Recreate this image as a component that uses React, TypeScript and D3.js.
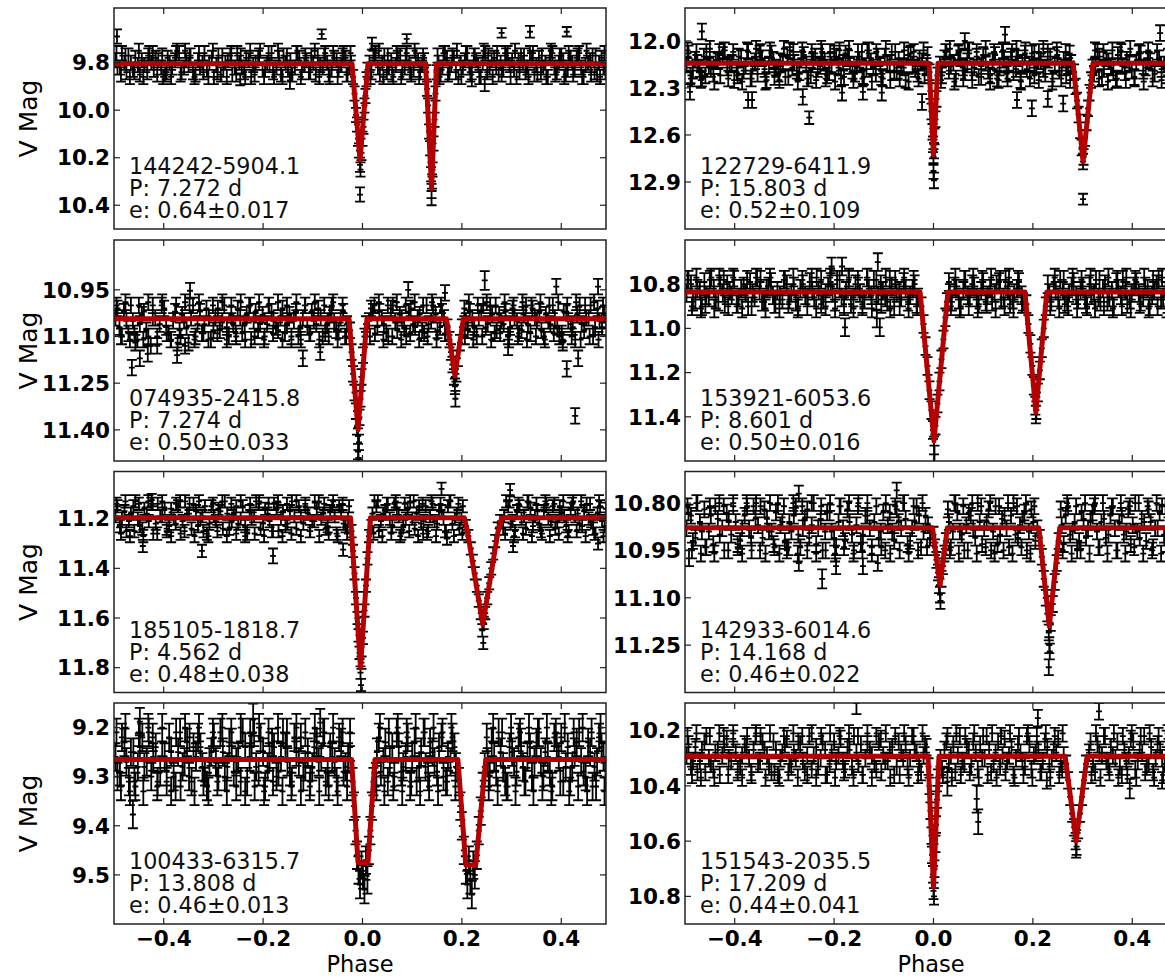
import React from 'react';
import * as d3 from 'd3';

// ---------------- metadata ----------------
const starIds = ['144242-5904.1', '122729-6411.9', '074935-2415.8', '153921-6053.6', '185105-1818.7', '142933-6014.6', '100433-6315.7', '151543-2035.5'];
const periods = ['7.272', '15.803', '7.274', '8.601', '4.562', '14.168', '13.808', '17.209'];
const eccs = ['0.64±0.017', '0.52±0.109', '0.50±0.033', '0.50±0.016', '0.48±0.038', '0.46±0.022', '0.46±0.013', '0.44±0.041'];
const magDomains = [[9.57, 10.5], [11.79, 13.2], [10.79, 11.5], [10.6, 11.6], [11.01, 11.9], [10.7, 11.4], [9.15, 9.6], [10.1, 10.9]];
const magTicks = [[9.8, 10.0, 10.2, 10.4], [12.0, 12.3, 12.6, 12.9], [10.95, 11.10, 11.25, 11.40], [10.8, 11.0, 11.2, 11.4], [11.2, 11.4, 11.6, 11.8], [10.80, 10.95, 11.10, 11.25], [9.2, 9.3, 9.4, 9.5], [10.2, 10.4, 10.6, 10.8]];
const tickDecimals = [1, 1, 2, 1, 1, 2, 1, 1];
const phaseDomain = [-0.5, 0.49];
const phaseTicks = [-0.4, -0.2, 0, 0.2, 0.4];
const typicalErr = [0.03, 0.05, 0.025, 0.04, 0.025, 0.025, 0.028, 0.03];

// ---------------- model curves [phase, mag] ----------------
const model1 = [[-0.5, 9.805], [-0.021, 9.805], [-0.005, 10.21], [0.011, 9.805], [0.127, 9.805], [0.139, 10.33], [0.149, 9.805], [0.49, 9.805]];
const model2 = [[-0.5, 12.142], [-0.009, 12.142], [0, 12.73], [0.009, 12.142], [0.281, 12.142], [0.301, 12.77], [0.321, 12.142], [0.49, 12.142]];
const model3 = [[-0.5, 11.043], [-0.027, 11.043], [-0.009, 11.40], [0.009, 11.043], [0.169, 11.043], [0.186, 11.226], [0.203, 11.043], [0.49, 11.043]];
const model4 = [[-0.5, 10.835], [-0.027, 10.835], [0.001, 11.51], [0.029, 10.835], [0.184, 10.835], [0.206, 11.38], [0.228, 10.835], [0.49, 10.835]];
const model5 = [[-0.5, 11.196], [-0.024, 11.196], [-0.004, 11.80], [0.016, 11.196], [0.205, 11.196], [0.212, 11.26], [0.242, 11.627], [0.272, 11.26], [0.280, 11.196], [0.49, 11.196]];
const model6 = [[-0.5, 10.878], [-0.002, 10.878], [0.013, 11.06], [0.028, 10.878], [0.212, 10.878], [0.233, 11.19], [0.254, 10.878], [0.49, 10.878]];
const model7 = [[-0.5, 9.265], [-0.022, 9.265], [-0.009, 9.475], [0.011, 9.475], [0.025, 9.265], [0.192, 9.265], [0.208, 9.48], [0.228, 9.48], [0.248, 9.265], [0.49, 9.265]];
const model8 = [[-0.5, 10.293], [-0.011, 10.293], [0, 10.767], [0.011, 10.293], [0.265, 10.293], [0.287, 10.60], [0.309, 10.293], [0.49, 10.293]];

// ---------------- observations [phase, mag, err?] ----------------
const obs1 = [
  [-0.497, 9.79], [-0.488, 9.82], [-0.479, 9.80], [-0.471, 9.77], [-0.462, 9.83], [-0.452, 9.81], [-0.444, 9.79], [-0.433, 9.84], [-0.425, 9.80], [-0.416, 9.78],
  [-0.405, 9.82], [-0.397, 9.85], [-0.388, 9.80], [-0.377, 9.79], [-0.369, 9.76], [-0.359, 9.82], [-0.350, 9.81], [-0.341, 9.84], [-0.331, 9.79], [-0.322, 9.80],
  [-0.313, 9.83], [-0.303, 9.78], [-0.294, 9.81], [-0.285, 9.85], [-0.276, 9.80], [-0.266, 9.77], [-0.257, 9.82], [-0.248, 9.80], [-0.238, 9.84], [-0.229, 9.79],
  [-0.220, 9.81], [-0.210, 9.78], [-0.201, 9.83], [-0.192, 9.80], [-0.183, 9.76], [-0.173, 9.82], [-0.164, 9.85], [-0.155, 9.80], [-0.145, 9.79], [-0.136, 9.82],
  [-0.127, 9.78], [-0.117, 9.81], [-0.108, 9.84], [-0.099, 9.80], [-0.090, 9.77], [-0.080, 9.82], [-0.071, 9.80], [-0.062, 9.83], [-0.052, 9.79], [-0.043, 9.81],
  [-0.034, 9.78], [-0.026, 9.82], [0.014, 9.80], [0.022, 9.78], [0.031, 9.82], [0.040, 9.80], [0.049, 9.84], [0.058, 9.79], [0.067, 9.81], [0.076, 9.77],
  [0.085, 9.82], [0.094, 9.80], [0.103, 9.83], [0.112, 9.79], [0.120, 9.81], [0.153, 9.80], [0.161, 9.82], [0.170, 9.78], [0.179, 9.81], [0.188, 9.84],
  [0.197, 9.80], [0.206, 9.79], [0.215, 9.82], [0.224, 9.77], [0.233, 9.81], [0.242, 9.80], [0.251, 9.84], [0.260, 9.79], [0.269, 9.82], [0.278, 9.80],
  [0.287, 9.76], [0.296, 9.81], [0.305, 9.83], [0.314, 9.79], [0.323, 9.80], [0.332, 9.82], [0.341, 9.78], [0.350, 9.81], [0.359, 9.84], [0.368, 9.80],
  [0.377, 9.77], [0.386, 9.82], [0.395, 9.80], [0.404, 9.79], [0.413, 9.83], [0.422, 9.80], [0.431, 9.78], [0.440, 9.82], [0.449, 9.81], [0.458, 9.79],
  [0.467, 9.84], [0.476, 9.80], [0.485, 9.82],
  [-0.019, 9.86], [-0.016, 9.93], [-0.013, 10.02], [-0.011, 10.06], [-0.009, 10.12], [-0.007, 10.17], [-0.005, 10.23], [-0.004, 10.25], [-0.002, 10.18], [0.000, 10.12],
  [0.002, 10.07], [0.004, 9.98], [0.006, 9.94], [0.008, 9.87], [0.010, 9.83], [-0.005, 10.355, 0.03],
  [0.128, 9.84], [0.130, 9.91], [0.132, 9.98], [0.134, 10.09], [0.136, 10.16], [0.138, 10.27], [0.139, 10.34], [0.140, 10.30], [0.141, 10.25], [0.143, 10.14],
  [0.145, 10.04], [0.147, 9.93], [0.149, 9.84], [0.139, 10.37],
  [-0.494, 9.69, 0.03], [0.019, 9.72, 0.025], [0.411, 9.67, 0.02], [-0.246, 9.87, 0.025], [-0.146, 9.875, 0.035], [0.22, 9.87, 0.03], [0.246, 9.89, 0.03],
  [-0.082, 9.68, 0.02], [0.28, 9.675, 0.02], [0.337, 9.67, 0.025], [0.089, 9.70, 0.02],
];
const obs1b = [
  [-0.493, 9.82], [-0.484, 9.76], [-0.475, 9.84], [-0.466, 9.80], [-0.457, 9.78], [-0.448, 9.85], [-0.439, 9.81], [-0.429, 9.76], [-0.420, 9.83], [-0.411, 9.79],
  [-0.401, 9.86], [-0.392, 9.78], [-0.383, 9.82], [-0.373, 9.75], [-0.364, 9.84], [-0.355, 9.79], [-0.346, 9.77], [-0.336, 9.85], [-0.327, 9.82], [-0.318, 9.76],
  [-0.308, 9.80], [-0.299, 9.86], [-0.290, 9.77], [-0.280, 9.83], [-0.271, 9.79], [-0.262, 9.85], [-0.252, 9.76], [-0.243, 9.82], [-0.234, 9.78], [-0.224, 9.86],
  [-0.215, 9.80], [-0.206, 9.75], [-0.196, 9.83], [-0.187, 9.81], [-0.178, 9.86], [-0.168, 9.78], [-0.159, 9.77], [-0.150, 9.83], [-0.141, 9.85], [-0.131, 9.76],
  [-0.122, 9.84], [-0.113, 9.79], [-0.103, 9.77], [-0.094, 9.85], [-0.085, 9.81], [-0.075, 9.76], [-0.066, 9.86], [-0.057, 9.78], [-0.048, 9.83], [-0.038, 9.76],
  [-0.030, 9.85], [-0.023, 9.80], [0.018, 9.84], [0.026, 9.76], [0.035, 9.85], [0.044, 9.77], [0.053, 9.82], [0.062, 9.86], [0.071, 9.78], [0.080, 9.84],
  [0.089, 9.76], [0.098, 9.85], [0.107, 9.77], [0.116, 9.84], [0.124, 9.79], [0.151, 9.77], [0.157, 9.85], [0.166, 9.76], [0.175, 9.84], [0.184, 9.78],
  [0.193, 9.86], [0.202, 9.82], [0.211, 9.76], [0.220, 9.84], [0.229, 9.79], [0.238, 9.86], [0.247, 9.76], [0.256, 9.82], [0.265, 9.78], [0.274, 9.85],
  [0.283, 9.83], [0.292, 9.76], [0.301, 9.79], [0.310, 9.86], [0.319, 9.77], [0.328, 9.84], [0.337, 9.76], [0.346, 9.85], [0.355, 9.78], [0.364, 9.82],
  [0.373, 9.86], [0.382, 9.76], [0.391, 9.84], [0.400, 9.77], [0.409, 9.85], [0.418, 9.78], [0.427, 9.83], [0.436, 9.76], [0.445, 9.86], [0.454, 9.80],
  [0.463, 9.77], [0.472, 9.85], [0.481, 9.78], [0.489, 9.84],
];
const obs1c = [
  [-0.495, 9.76], [-0.486, 9.85], [-0.477, 9.77], [-0.468, 9.86], [-0.459, 9.84], [-0.450, 9.75], [-0.441, 9.86], [-0.431, 9.77], [-0.422, 9.76], [-0.413, 9.85],
  [-0.403, 9.77], [-0.394, 9.84], [-0.385, 9.86], [-0.375, 9.76], [-0.366, 9.85], [-0.357, 9.75], [-0.348, 9.77], [-0.338, 9.86], [-0.329, 9.76], [-0.320, 9.84],
  [-0.310, 9.86], [-0.301, 9.75], [-0.292, 9.84], [-0.282, 9.77], [-0.273, 9.86], [-0.264, 9.76], [-0.254, 9.85], [-0.245, 9.77], [-0.236, 9.86], [-0.226, 9.75],
  [-0.217, 9.85], [-0.208, 9.77], [-0.198, 9.86], [-0.189, 9.76], [-0.180, 9.84], [-0.170, 9.75], [-0.161, 9.86], [-0.152, 9.77], [-0.143, 9.85], [-0.133, 9.76],
  [-0.124, 9.86], [-0.115, 9.77], [-0.105, 9.84], [-0.096, 9.75], [-0.087, 9.86], [-0.077, 9.77], [-0.068, 9.85], [-0.059, 9.76], [-0.050, 9.86], [-0.040, 9.77],
  [-0.032, 9.85], [-0.024, 9.76], [0.016, 9.86], [0.024, 9.77], [0.033, 9.75], [0.042, 9.86], [0.051, 9.77], [0.060, 9.85], [0.069, 9.76], [0.078, 9.86],
  [0.087, 9.77], [0.096, 9.84], [0.105, 9.75], [0.114, 9.86], [0.122, 9.77], [0.155, 9.86], [0.163, 9.76], [0.172, 9.85], [0.181, 9.77], [0.190, 9.75],
  [0.199, 9.86], [0.208, 9.76], [0.217, 9.85], [0.226, 9.77], [0.235, 9.86], [0.244, 9.75], [0.253, 9.77], [0.262, 9.86], [0.271, 9.76], [0.280, 9.85],
  [0.289, 9.77], [0.298, 9.86], [0.307, 9.75], [0.316, 9.84], [0.325, 9.77], [0.334, 9.86], [0.343, 9.76], [0.352, 9.85], [0.361, 9.77], [0.370, 9.86],
  [0.379, 9.75], [0.388, 9.85], [0.397, 9.77], [0.406, 9.86], [0.415, 9.76], [0.424, 9.85], [0.433, 9.77], [0.442, 9.86], [0.451, 9.75], [0.460, 9.85],
  [0.469, 9.77], [0.478, 9.86], [0.487, 9.76],
];

const obs2 = [
  [-0.497, 12.15], [-0.489, 12.22], [-0.480, 12.12], [-0.471, 12.18], [-0.462, 12.10], [-0.452, 12.16], [-0.443, 12.21], [-0.434, 12.13], [-0.424, 12.09], [-0.415, 12.17],
  [-0.406, 12.14], [-0.396, 12.20], [-0.387, 12.11], [-0.378, 12.16], [-0.368, 12.24], [-0.359, 12.13], [-0.350, 12.08], [-0.340, 12.18], [-0.331, 12.15], [-0.322, 12.12],
  [-0.312, 12.21], [-0.303, 12.14], [-0.294, 12.09], [-0.284, 12.17], [-0.275, 12.19], [-0.266, 12.12], [-0.256, 12.15], [-0.247, 12.22], [-0.238, 12.10], [-0.228, 12.16],
  [-0.219, 12.13], [-0.210, 12.20], [-0.200, 12.08], [-0.191, 12.17], [-0.182, 12.14], [-0.172, 12.11], [-0.163, 12.19], [-0.154, 12.15], [-0.144, 12.07], [-0.135, 12.18],
  [-0.126, 12.13], [-0.116, 12.21], [-0.107, 12.16], [-0.098, 12.10], [-0.088, 12.14], [-0.079, 12.19], [-0.070, 12.12], [-0.060, 12.17], [-0.051, 12.09], [-0.042, 12.15],
  [-0.032, 12.21], [-0.023, 12.13], [-0.014, 12.16], [0.013, 12.15], [0.022, 12.11], [0.031, 12.19], [0.040, 12.14], [0.050, 12.08], [0.059, 12.17], [0.068, 12.13],
  [0.077, 12.20], [0.087, 12.10], [0.096, 12.16], [0.105, 12.14], [0.114, 12.22], [0.124, 12.09], [0.133, 12.17], [0.142, 12.12], [0.151, 12.15], [0.161, 12.20],
  [0.170, 12.11], [0.179, 12.14], [0.188, 12.18], [0.198, 12.08], [0.207, 12.16], [0.216, 12.13], [0.225, 12.21], [0.235, 12.10], [0.244, 12.15], [0.253, 12.19],
  [0.262, 12.12], [0.271, 12.16], [0.277, 12.14], [0.326, 12.15], [0.334, 12.10], [0.343, 12.18], [0.352, 12.13], [0.362, 12.20], [0.371, 12.09], [0.380, 12.16],
  [0.389, 12.12], [0.399, 12.19], [0.408, 12.14], [0.417, 12.08], [0.427, 12.17], [0.436, 12.13], [0.445, 12.21], [0.454, 12.11], [0.464, 12.15], [0.473, 12.18],
  [0.482, 12.10], [0.490, 12.16],
  [-0.008, 12.20], [-0.006, 12.32], [-0.004, 12.45], [-0.002, 12.58], [-0.001, 12.66], [0.000, 12.74], [0.000, 12.83], [0.001, 12.89], [0.001, 12.70], [0.002, 12.61],
  [0.004, 12.50], [0.006, 12.37], [0.008, 12.22],
  [0.283, 12.20], [0.286, 12.29], [0.289, 12.38], [0.292, 12.47], [0.295, 12.57], [0.298, 12.68], [0.301, 12.77], [0.302, 12.74], [0.305, 12.62], [0.308, 12.52],
  [0.311, 12.43], [0.314, 12.33], [0.317, 12.25], [0.320, 12.17], [0.301, 13.01, 0.035],
  [-0.49, 12.325], [-0.373, 12.377], [-0.365, 12.377], [-0.263, 12.357], [-0.25, 12.49, 0.04], [-0.184, 12.33], [-0.142, 12.325], [-0.104, 12.33], [-0.023, 12.39],
  [0.168, 12.377], [0.198, 12.43], [0.23, 12.37], [0.261, 12.40], [-0.466, 11.94], [0.144, 11.96], [0.456, 11.95], [0.063, 12.0],
];
const obs2b = [
  [-0.493, 12.08], [-0.484, 12.19], [-0.475, 12.14], [-0.466, 12.24], [-0.457, 12.07], [-0.448, 12.18], [-0.438, 12.12], [-0.429, 12.22], [-0.420, 12.06], [-0.410, 12.15],
  [-0.401, 12.25], [-0.392, 12.10], [-0.382, 12.19], [-0.373, 12.07], [-0.364, 12.16], [-0.354, 12.21], [-0.345, 12.11], [-0.336, 12.25], [-0.326, 12.08], [-0.317, 12.17],
  [-0.308, 12.13], [-0.298, 12.23], [-0.289, 12.06], [-0.280, 12.14], [-0.270, 12.20], [-0.261, 12.09], [-0.252, 12.24], [-0.242, 12.13], [-0.233, 12.18], [-0.224, 12.07],
  [-0.214, 12.22], [-0.205, 12.15], [-0.196, 12.10], [-0.186, 12.24], [-0.177, 12.08], [-0.168, 12.16], [-0.158, 12.21], [-0.149, 12.12], [-0.140, 12.23], [-0.130, 12.06],
  [-0.121, 12.17], [-0.112, 12.10], [-0.102, 12.24], [-0.093, 12.14], [-0.084, 12.07], [-0.074, 12.20], [-0.065, 12.16], [-0.056, 12.25], [-0.046, 12.08], [-0.037, 12.18],
  [-0.028, 12.11], [-0.018, 12.22], [-0.012, 12.09], [0.017, 12.22], [0.026, 12.07], [0.035, 12.16], [0.045, 12.24], [0.054, 12.11], [0.063, 12.20], [0.072, 12.06],
  [0.082, 12.17], [0.091, 12.23], [0.100, 12.09], [0.110, 12.19], [0.119, 12.13], [0.128, 12.24], [0.138, 12.07], [0.147, 12.21], [0.156, 12.10], [0.166, 12.18],
  [0.175, 12.25], [0.184, 12.08], [0.193, 12.15], [0.203, 12.22], [0.212, 12.07], [0.221, 12.18], [0.230, 12.12], [0.240, 12.24], [0.249, 12.09], [0.258, 12.17],
  [0.267, 12.22], [0.274, 12.08], [0.323, 12.21], [0.330, 12.07], [0.339, 12.23], [0.348, 12.11], [0.357, 12.17], [0.367, 12.25], [0.376, 12.06], [0.385, 12.20],
  [0.394, 12.14], [0.404, 12.23], [0.413, 12.08], [0.422, 12.19], [0.431, 12.12], [0.441, 12.24], [0.450, 12.07], [0.459, 12.18], [0.468, 12.22], [0.478, 12.09],
  [0.487, 12.20],
];
const obs2c = [
  [-0.495, 12.06], [-0.486, 12.24], [-0.477, 12.07], [-0.468, 12.25], [-0.459, 12.22], [-0.450, 12.05], [-0.441, 12.26], [-0.431, 12.07], [-0.422, 12.06], [-0.413, 12.24],
  [-0.403, 12.07], [-0.394, 12.22], [-0.385, 12.26], [-0.375, 12.06], [-0.366, 12.24], [-0.357, 12.05], [-0.348, 12.07], [-0.338, 12.26], [-0.329, 12.06], [-0.320, 12.23],
  [-0.310, 12.25], [-0.301, 12.05], [-0.292, 12.23], [-0.282, 12.07], [-0.273, 12.26], [-0.264, 12.06], [-0.254, 12.24], [-0.245, 12.07], [-0.236, 12.25], [-0.226, 12.05],
  [-0.217, 12.24], [-0.208, 12.07], [-0.198, 12.26], [-0.189, 12.06], [-0.180, 12.23], [-0.170, 12.05], [-0.161, 12.25], [-0.152, 12.07], [-0.143, 12.24], [-0.133, 12.06],
  [-0.124, 12.26], [-0.115, 12.07], [-0.105, 12.23], [-0.096, 12.05], [-0.087, 12.25], [-0.077, 12.07], [-0.068, 12.24], [-0.059, 12.06], [-0.050, 12.26], [-0.040, 12.07],
  [-0.030, 12.24], [-0.020, 12.06], [0.015, 12.25], [0.024, 12.07], [0.033, 12.05], [0.042, 12.26], [0.051, 12.07], [0.060, 12.24], [0.069, 12.06], [0.078, 12.25],
  [0.087, 12.07], [0.096, 12.23], [0.105, 12.05], [0.114, 12.26], [0.122, 12.07], [0.131, 12.25], [0.140, 12.06], [0.149, 12.24], [0.158, 12.07], [0.167, 12.05],
  [0.176, 12.26], [0.185, 12.06], [0.194, 12.24], [0.203, 12.07], [0.212, 12.25], [0.221, 12.05], [0.230, 12.07], [0.239, 12.26], [0.248, 12.06], [0.257, 12.24],
  [0.266, 12.07], [0.275, 12.25], [0.325, 12.06], [0.333, 12.24], [0.342, 12.07], [0.351, 12.26], [0.360, 12.06], [0.369, 12.24], [0.378, 12.07], [0.387, 12.25],
  [0.396, 12.05], [0.405, 12.24], [0.414, 12.07], [0.423, 12.26], [0.432, 12.06], [0.441, 12.24], [0.450, 12.07], [0.459, 12.25], [0.468, 12.05], [0.477, 12.24],
  [0.486, 12.07],
];

const obs3 = [
  [-0.497, 11.04], [-0.489, 11.07], [-0.480, 11.02], [-0.471, 11.09], [-0.462, 11.05], [-0.453, 11.11], [-0.444, 11.03], [-0.435, 11.08], [-0.426, 11.13], [-0.417, 11.04],
  [-0.408, 11.06], [-0.399, 11.01], [-0.390, 11.09], [-0.381, 11.05], [-0.372, 11.12], [-0.363, 11.03], [-0.354, 11.07], [-0.345, 11.04], [-0.336, 11.10], [-0.327, 11.02],
  [-0.318, 11.06], [-0.309, 11.04], [-0.300, 11.08], [-0.291, 11.01], [-0.282, 11.05], [-0.273, 11.07], [-0.264, 11.03], [-0.255, 11.09], [-0.246, 11.04], [-0.237, 11.06],
  [-0.228, 11.00], [-0.219, 11.05], [-0.210, 11.08], [-0.201, 11.03], [-0.192, 11.06], [-0.183, 11.02], [-0.174, 11.07], [-0.165, 11.04], [-0.156, 11.09], [-0.147, 11.03],
  [-0.138, 11.05], [-0.129, 11.10], [-0.120, 11.04], [-0.111, 11.07], [-0.102, 11.02], [-0.093, 11.06], [-0.084, 11.04], [-0.075, 11.09], [-0.066, 11.03], [-0.057, 11.05],
  [-0.048, 11.08], [-0.039, 11.02], [-0.031, 11.06], [0.013, 11.05], [0.021, 11.02], [0.030, 11.07], [0.039, 11.04], [0.048, 11.09], [0.057, 11.01], [0.066, 11.05],
  [0.075, 11.03], [0.084, 11.07], [0.093, 11.02], [0.102, 11.06], [0.111, 11.04], [0.120, 11.08], [0.129, 11.00], [0.138, 11.05], [0.147, 11.03], [0.156, 11.07],
  [0.164, 11.04], [0.208, 11.05], [0.216, 11.02], [0.225, 11.07], [0.234, 11.04], [0.243, 11.00], [0.252, 11.06], [0.261, 11.03], [0.270, 11.08], [0.279, 11.05],
  [0.288, 11.02], [0.297, 11.07], [0.306, 11.04], [0.315, 11.09], [0.324, 11.03], [0.333, 11.06], [0.342, 11.01], [0.351, 11.05], [0.360, 11.08], [0.369, 11.03],
  [0.378, 11.06], [0.387, 11.04], [0.396, 11.10], [0.405, 11.02], [0.414, 11.05], [0.423, 11.07], [0.432, 11.03], [0.441, 11.06], [0.450, 11.04], [0.459, 11.00],
  [0.468, 11.07], [0.477, 11.05], [0.486, 11.03],
  [-0.025, 11.08], [-0.022, 11.15], [-0.019, 11.22], [-0.016, 11.28], [-0.013, 11.34], [-0.011, 11.39], [-0.009, 11.42], [-0.009, 11.47], [-0.008, 11.49], [-0.007, 11.44],
  [-0.006, 11.36], [-0.004, 11.30], [-0.002, 11.23], [0.001, 11.16], [0.004, 11.10], [0.007, 11.06],
  [0.171, 11.07], [0.175, 11.11], [0.178, 11.15], [0.181, 11.19], [0.184, 11.23], [0.186, 11.26], [0.187, 11.30], [0.189, 11.22], [0.192, 11.17], [0.196, 11.12], [0.200, 11.07],
  [-0.464, 11.20], [-0.448, 11.17], [-0.432, 11.156], [-0.373, 11.16], [-0.357, 11.13], [-0.12, 11.17], [-0.347, 10.953], [0.411, 11.204], [0.434, 11.17],
  [0.428, 11.355], [0.246, 10.92, 0.03], [0.39, 10.94], [0.474, 10.94], [0.092, 10.95], [0.166, 10.96], [-0.085, 11.15], [0.293, 11.135], [0.403, 11.12],
];
const obs3b = [
  [-0.493, 11.01], [-0.484, 11.10], [-0.475, 11.05], [-0.466, 11.00], [-0.457, 11.12], [-0.448, 11.06], [-0.440, 11.02], [-0.431, 11.10], [-0.422, 11.04], [-0.413, 11.13],
  [-0.404, 11.00], [-0.395, 11.07], [-0.386, 11.11], [-0.377, 11.02], [-0.368, 11.08], [-0.359, 11.05], [-0.350, 11.12], [-0.341, 11.00], [-0.332, 11.06], [-0.323, 11.09],
  [-0.314, 11.01], [-0.305, 11.11], [-0.296, 11.04], [-0.287, 11.08], [-0.278, 11.00], [-0.269, 11.10], [-0.260, 11.06], [-0.251, 11.01], [-0.242, 11.09], [-0.233, 11.03],
  [-0.224, 11.11], [-0.215, 11.02], [-0.206, 11.06], [-0.197, 11.10], [-0.188, 11.00], [-0.179, 11.05], [-0.170, 11.08], [-0.161, 11.01], [-0.152, 11.06], [-0.143, 11.11],
  [-0.134, 11.02], [-0.125, 11.07], [-0.116, 11.00], [-0.107, 11.09], [-0.098, 11.05], [-0.089, 11.01], [-0.080, 11.10], [-0.071, 11.06], [-0.062, 11.00], [-0.053, 11.08],
  [-0.044, 11.04], [-0.035, 11.10], [0.017, 11.01], [0.025, 11.09], [0.034, 11.02], [0.043, 11.06], [0.052, 11.10], [0.061, 11.00], [0.070, 11.08], [0.079, 11.04],
  [0.088, 11.10], [0.097, 11.01], [0.106, 11.07], [0.115, 11.03], [0.124, 11.09], [0.133, 11.06], [0.142, 11.00], [0.151, 11.08], [0.160, 11.02], [0.167, 11.09],
  [0.205, 11.01], [0.212, 11.08], [0.221, 11.04], [0.230, 11.10], [0.239, 11.02], [0.248, 11.07], [0.257, 11.00], [0.266, 11.09], [0.275, 11.03], [0.284, 11.06],
  [0.293, 11.10], [0.302, 11.01], [0.311, 11.05], [0.320, 11.08], [0.329, 11.00], [0.338, 11.09], [0.347, 11.04], [0.356, 11.02], [0.365, 11.10], [0.374, 11.05],
  [0.383, 11.00], [0.392, 11.07], [0.401, 11.09], [0.410, 11.02], [0.419, 11.06], [0.428, 11.11], [0.437, 11.00], [0.446, 11.08], [0.455, 11.04], [0.464, 11.10],
  [0.473, 11.01], [0.482, 11.07], [0.490, 11.05],
];
const obs3c = [
  [-0.495, 11.00], [-0.486, 11.10], [-0.477, 10.99], [-0.468, 11.11], [-0.459, 11.09], [-0.450, 11.00], [-0.441, 11.11], [-0.431, 10.99], [-0.422, 11.00], [-0.413, 11.10],
  [-0.403, 10.99], [-0.394, 11.09], [-0.385, 11.11], [-0.375, 11.00], [-0.366, 11.10], [-0.357, 10.99], [-0.348, 11.00], [-0.338, 11.11], [-0.329, 10.99], [-0.320, 11.09],
  [-0.310, 11.11], [-0.301, 11.00], [-0.292, 11.09], [-0.282, 10.99], [-0.273, 11.11], [-0.264, 11.00], [-0.254, 11.10], [-0.245, 10.99], [-0.236, 11.11], [-0.226, 11.00],
  [-0.217, 11.10], [-0.208, 10.99], [-0.198, 11.11], [-0.189, 11.00], [-0.180, 11.09], [-0.170, 10.99], [-0.161, 11.11], [-0.152, 11.00], [-0.143, 11.10], [-0.133, 10.99],
  [-0.124, 11.11], [-0.115, 11.00], [-0.105, 11.09], [-0.096, 10.99], [-0.087, 11.11], [-0.077, 11.00], [-0.068, 11.10], [-0.059, 10.99], [-0.050, 11.11], [-0.040, 11.00],
  [-0.033, 11.10], [0.015, 11.10], [0.024, 11.00], [0.033, 10.99], [0.042, 11.11], [0.051, 11.00], [0.060, 11.10], [0.069, 10.99], [0.078, 11.11], [0.087, 11.00],
  [0.096, 11.09], [0.105, 10.99], [0.114, 11.11], [0.122, 11.00], [0.131, 11.10], [0.140, 10.99], [0.149, 11.11], [0.158, 11.00], [0.166, 11.09], [0.206, 11.10],
  [0.214, 10.99], [0.223, 11.11], [0.232, 11.00], [0.241, 11.10], [0.250, 10.99], [0.259, 11.11], [0.268, 11.00], [0.277, 11.09], [0.286, 10.99], [0.295, 11.11],
  [0.304, 11.00], [0.313, 11.10], [0.322, 10.99], [0.331, 11.11], [0.340, 11.00], [0.349, 11.10], [0.358, 10.99], [0.367, 11.11], [0.376, 11.00], [0.385, 11.09],
  [0.394, 10.99], [0.403, 11.11], [0.412, 11.00], [0.421, 11.10], [0.430, 10.99], [0.439, 11.11], [0.448, 11.00], [0.457, 11.10], [0.466, 10.99], [0.475, 11.11],
  [0.484, 11.00],
];

const obs4 = [
  [-0.497, 10.84], [-0.488, 10.80], [-0.479, 10.87], [-0.470, 10.83], [-0.461, 10.79], [-0.452, 10.86], [-0.442, 10.82], [-0.433, 10.88], [-0.424, 10.84], [-0.415, 10.80],
  [-0.406, 10.85], [-0.396, 10.89], [-0.387, 10.82], [-0.378, 10.84], [-0.369, 10.79], [-0.360, 10.86], [-0.350, 10.83], [-0.341, 10.88], [-0.332, 10.81], [-0.323, 10.85],
  [-0.314, 10.83], [-0.304, 10.87], [-0.295, 10.80], [-0.286, 10.84], [-0.277, 10.88], [-0.268, 10.82], [-0.258, 10.85], [-0.249, 10.79], [-0.240, 10.86], [-0.231, 10.83],
  [-0.222, 10.87], [-0.212, 10.81], [-0.203, 10.84], [-0.194, 10.78], [-0.185, 10.86], [-0.176, 10.83], [-0.166, 10.89], [-0.157, 10.80], [-0.148, 10.84], [-0.139, 10.87],
  [-0.130, 10.82], [-0.120, 10.78], [-0.111, 10.85], [-0.102, 10.83], [-0.093, 10.88], [-0.084, 10.81], [-0.074, 10.84], [-0.065, 10.86], [-0.056, 10.82], [-0.047, 10.85],
  [-0.038, 10.80], [-0.031, 10.86], [0.033, 10.84], [0.042, 10.81], [0.051, 10.87], [0.060, 10.83], [0.069, 10.85], [0.078, 10.80], [0.087, 10.86], [0.096, 10.83],
  [0.105, 10.88], [0.114, 10.82], [0.123, 10.84], [0.132, 10.79], [0.141, 10.86], [0.150, 10.83], [0.159, 10.87], [0.168, 10.82], [0.177, 10.85], [0.233, 10.84],
  [0.242, 10.80], [0.251, 10.86], [0.260, 10.83], [0.269, 10.88], [0.278, 10.81], [0.287, 10.85], [0.296, 10.83], [0.305, 10.87], [0.314, 10.80], [0.323, 10.84],
  [0.332, 10.86], [0.341, 10.82], [0.350, 10.88], [0.359, 10.83], [0.368, 10.79], [0.377, 10.85], [0.386, 10.83], [0.395, 10.87], [0.404, 10.81], [0.413, 10.84],
  [0.422, 10.86], [0.431, 10.82], [0.440, 10.85], [0.449, 10.80], [0.458, 10.87], [0.467, 10.83], [0.476, 10.85], [0.485, 10.81], [0.493, 10.84],
  [-0.024, 10.90], [-0.020, 10.98], [-0.016, 11.08], [-0.012, 11.17], [-0.008, 11.28], [-0.004, 11.37], [-0.001, 11.46], [0.001, 11.53], [0.002, 11.57], [0.004, 11.44],
  [0.008, 11.34], [0.012, 11.24], [0.016, 11.14], [0.020, 11.05], [0.024, 10.95], [0.027, 10.88],
  [0.187, 10.89], [0.191, 10.98], [0.195, 11.07], [0.199, 11.17], [0.202, 11.26], [0.205, 11.35], [0.206, 11.39], [0.207, 11.37], [0.210, 11.29], [0.214, 11.19],
  [0.218, 11.09], [0.222, 11.00], [0.226, 10.90],
  [-0.178, 10.995], [-0.108, 10.995], [-0.114, 10.955], [-0.112, 10.70], [-0.184, 10.72], [-0.205, 10.72],
];
const obs4b = [
  [-0.493, 10.78], [-0.484, 10.88], [-0.475, 10.82], [-0.466, 10.90], [-0.457, 10.85], [-0.447, 10.77], [-0.438, 10.87], [-0.429, 10.80], [-0.420, 10.89], [-0.410, 10.83],
  [-0.401, 10.78], [-0.392, 10.86], [-0.382, 10.81], [-0.373, 10.90], [-0.364, 10.84], [-0.355, 10.77], [-0.345, 10.88], [-0.336, 10.82], [-0.327, 10.79], [-0.318, 10.89],
  [-0.309, 10.85], [-0.299, 10.78], [-0.290, 10.87], [-0.281, 10.81], [-0.272, 10.90], [-0.263, 10.80], [-0.253, 10.86], [-0.244, 10.83], [-0.235, 10.77], [-0.226, 10.89],
  [-0.217, 10.84], [-0.207, 10.79], [-0.198, 10.88], [-0.189, 10.82], [-0.180, 10.90], [-0.171, 10.78], [-0.161, 10.86], [-0.152, 10.81], [-0.143, 10.89], [-0.134, 10.77],
  [-0.125, 10.85], [-0.115, 10.88], [-0.106, 10.80], [-0.097, 10.86], [-0.088, 10.78], [-0.079, 10.90], [-0.069, 10.83], [-0.060, 10.79], [-0.051, 10.88], [-0.042, 10.82],
  [-0.034, 10.89], [0.031, 10.79], [0.037, 10.88], [0.046, 10.82], [0.055, 10.90], [0.064, 10.78], [0.073, 10.86], [0.082, 10.81], [0.091, 10.89], [0.100, 10.79],
  [0.109, 10.85], [0.118, 10.88], [0.127, 10.80], [0.136, 10.87], [0.145, 10.78], [0.154, 10.89], [0.163, 10.84], [0.172, 10.79], [0.180, 10.88], [0.230, 10.80],
  [0.237, 10.88], [0.246, 10.83], [0.255, 10.78], [0.264, 10.89], [0.273, 10.84], [0.282, 10.79], [0.291, 10.87], [0.300, 10.81], [0.309, 10.90], [0.318, 10.85],
  [0.327, 10.78], [0.336, 10.88], [0.345, 10.80], [0.354, 10.86], [0.363, 10.90], [0.372, 10.82], [0.381, 10.78], [0.390, 10.89], [0.399, 10.84], [0.408, 10.79],
  [0.417, 10.88], [0.426, 10.81], [0.435, 10.90], [0.444, 10.83], [0.453, 10.78], [0.462, 10.86], [0.471, 10.89], [0.480, 10.80], [0.489, 10.87],
];
const obs4c = [
  [-0.495, 10.78], [-0.486, 10.90], [-0.477, 10.77], [-0.468, 10.91], [-0.459, 10.89], [-0.450, 10.78], [-0.441, 10.91], [-0.431, 10.77], [-0.422, 10.78], [-0.413, 10.90],
  [-0.403, 10.77], [-0.394, 10.89], [-0.385, 10.91], [-0.375, 10.78], [-0.366, 10.90], [-0.357, 10.77], [-0.348, 10.78], [-0.338, 10.91], [-0.329, 10.77], [-0.320, 10.89],
  [-0.310, 10.91], [-0.301, 10.78], [-0.292, 10.89], [-0.282, 10.77], [-0.273, 10.91], [-0.264, 10.78], [-0.254, 10.90], [-0.245, 10.77], [-0.236, 10.91], [-0.226, 10.78],
  [-0.217, 10.90], [-0.208, 10.77], [-0.198, 10.91], [-0.189, 10.78], [-0.180, 10.89], [-0.170, 10.77], [-0.161, 10.91], [-0.152, 10.78], [-0.143, 10.90], [-0.133, 10.77],
  [-0.124, 10.91], [-0.115, 10.78], [-0.105, 10.89], [-0.096, 10.77], [-0.087, 10.91], [-0.077, 10.78], [-0.068, 10.90], [-0.059, 10.77], [-0.050, 10.91], [-0.040, 10.78],
  [-0.033, 10.90], [0.035, 10.90], [0.044, 10.77], [0.053, 10.91], [0.062, 10.78], [0.071, 10.90], [0.080, 10.77], [0.089, 10.91], [0.098, 10.78], [0.107, 10.89],
  [0.116, 10.77], [0.125, 10.91], [0.134, 10.78], [0.143, 10.90], [0.152, 10.77], [0.161, 10.91], [0.170, 10.78], [0.178, 10.89], [0.235, 10.90], [0.244, 10.77],
  [0.253, 10.91], [0.262, 10.78], [0.271, 10.90], [0.280, 10.77], [0.289, 10.91], [0.298, 10.78], [0.307, 10.89], [0.316, 10.77], [0.325, 10.91], [0.334, 10.78],
  [0.343, 10.90], [0.352, 10.77], [0.361, 10.91], [0.370, 10.78], [0.379, 10.90], [0.388, 10.77], [0.397, 10.91], [0.406, 10.78], [0.415, 10.89], [0.424, 10.77],
  [0.433, 10.91], [0.442, 10.78], [0.451, 10.90], [0.460, 10.77], [0.469, 10.91], [0.478, 10.78], [0.487, 10.90],
];

const obs5 = [
  [-0.497, 11.19], [-0.488, 11.23], [-0.479, 11.17], [-0.470, 11.21], [-0.461, 11.15], [-0.452, 11.20], [-0.443, 11.24], [-0.434, 11.18], [-0.425, 11.14], [-0.416, 11.22],
  [-0.407, 11.19], [-0.398, 11.16], [-0.389, 11.23], [-0.380, 11.20], [-0.371, 11.15], [-0.362, 11.21], [-0.353, 11.18], [-0.344, 11.24], [-0.335, 11.17], [-0.326, 11.20],
  [-0.317, 11.15], [-0.308, 11.22], [-0.299, 11.19], [-0.290, 11.16], [-0.281, 11.24], [-0.272, 11.18], [-0.263, 11.21], [-0.254, 11.15], [-0.245, 11.20], [-0.236, 11.23],
  [-0.227, 11.17], [-0.218, 11.19], [-0.209, 11.14], [-0.200, 11.22], [-0.191, 11.18], [-0.182, 11.25], [-0.173, 11.16], [-0.164, 11.20], [-0.155, 11.23], [-0.146, 11.17],
  [-0.137, 11.19], [-0.128, 11.15], [-0.119, 11.22], [-0.110, 11.18], [-0.101, 11.21], [-0.092, 11.16], [-0.083, 11.20], [-0.074, 11.24], [-0.065, 11.17], [-0.056, 11.19],
  [-0.047, 11.15], [-0.038, 11.22], [-0.029, 11.20], [0.020, 11.18], [0.028, 11.15], [0.037, 11.21], [0.046, 11.17], [0.055, 11.20], [0.064, 11.14], [0.073, 11.19],
  [0.082, 11.23], [0.091, 11.16], [0.100, 11.20], [0.109, 11.18], [0.118, 11.22], [0.127, 11.15], [0.136, 11.19], [0.145, 11.21], [0.154, 11.17], [0.163, 11.20],
  [0.172, 11.15], [0.181, 11.22], [0.190, 11.18], [0.199, 11.20], [0.285, 11.19], [0.293, 11.15], [0.302, 11.21], [0.311, 11.17], [0.320, 11.20], [0.329, 11.24],
  [0.338, 11.16], [0.347, 11.19], [0.356, 11.22], [0.365, 11.17], [0.374, 11.20], [0.383, 11.15], [0.392, 11.21], [0.401, 11.18], [0.410, 11.23], [0.419, 11.16],
  [0.428, 11.19], [0.437, 11.22], [0.446, 11.17], [0.455, 11.20], [0.464, 11.24], [0.473, 11.18], [0.482, 11.21], [0.490, 11.16],
  [-0.022, 11.25], [-0.019, 11.33], [-0.016, 11.42], [-0.013, 11.52], [-0.010, 11.60], [-0.008, 11.67], [-0.006, 11.74], [-0.004, 11.82], [-0.003, 11.87], [-0.002, 11.78],
  [0.001, 11.68], [0.004, 11.57], [0.007, 11.47], [0.010, 11.36], [0.013, 11.27],
  [0.208, 11.23], [0.213, 11.27], [0.218, 11.32], [0.222, 11.37], [0.226, 11.42], [0.230, 11.47], [0.234, 11.53], [0.238, 11.58], [0.241, 11.65], [0.243, 11.70],
  [0.244, 11.62], [0.247, 11.58], [0.251, 11.52], [0.255, 11.46], [0.259, 11.40], [0.263, 11.34], [0.267, 11.29], [0.272, 11.24], [0.277, 11.21],
  [-0.442, 11.31], [-0.323, 11.33], [-0.18, 11.35, 0.03], [-0.039, 11.325], [0.122, 11.26], [0.17, 11.28], [0.303, 11.31], [0.474, 11.30],
  [-0.424, 11.125], [0.159, 11.08], [0.297, 11.085],
];
const obs5b = [
  [-0.493, 11.15], [-0.484, 11.20], [-0.475, 11.25], [-0.466, 11.18], [-0.457, 11.13], [-0.448, 11.23], [-0.439, 11.16], [-0.430, 11.21], [-0.421, 11.26], [-0.412, 11.14],
  [-0.403, 11.19], [-0.394, 11.24], [-0.385, 11.16], [-0.376, 11.22], [-0.367, 11.13], [-0.358, 11.25], [-0.349, 11.18], [-0.340, 11.14], [-0.331, 11.23], [-0.322, 11.19],
  [-0.313, 11.26], [-0.304, 11.15], [-0.295, 11.21], [-0.286, 11.17], [-0.277, 11.13], [-0.268, 11.24], [-0.259, 11.18], [-0.250, 11.22], [-0.241, 11.15], [-0.232, 11.26],
  [-0.223, 11.20], [-0.214, 11.13], [-0.205, 11.24], [-0.196, 11.16], [-0.187, 11.21], [-0.178, 11.14], [-0.169, 11.25], [-0.160, 11.17], [-0.151, 11.22], [-0.142, 11.13],
  [-0.133, 11.24], [-0.124, 11.19], [-0.115, 11.15], [-0.106, 11.25], [-0.097, 11.21], [-0.088, 11.13], [-0.079, 11.18], [-0.070, 11.23], [-0.061, 11.15], [-0.052, 11.26],
  [-0.043, 11.17], [-0.034, 11.23], [-0.027, 11.15], [0.018, 11.23], [0.024, 11.13], [0.033, 11.25], [0.042, 11.18], [0.051, 11.14], [0.060, 11.23], [0.069, 11.16],
  [0.078, 11.26], [0.087, 11.20], [0.096, 11.13], [0.105, 11.24], [0.114, 11.15], [0.123, 11.21], [0.132, 11.25], [0.141, 11.14], [0.150, 11.22], [0.159, 11.17],
  [0.168, 11.25], [0.177, 11.13], [0.186, 11.20], [0.195, 11.24], [0.202, 11.15], [0.283, 11.24], [0.289, 11.13], [0.298, 11.22], [0.307, 11.25], [0.316, 11.15],
  [0.325, 11.19], [0.334, 11.13], [0.343, 11.23], [0.352, 11.17], [0.361, 11.26], [0.370, 11.14], [0.379, 11.21], [0.388, 11.24], [0.397, 11.15], [0.406, 11.19],
  [0.415, 11.25], [0.424, 11.13], [0.433, 11.18], [0.442, 11.23], [0.451, 11.14], [0.460, 11.21], [0.469, 11.26], [0.478, 11.15], [0.487, 11.23],
];
const obs5c = [
  [-0.495, 11.14], [-0.486, 11.26], [-0.477, 11.13], [-0.468, 11.27], [-0.459, 11.25], [-0.450, 11.14], [-0.441, 11.27], [-0.431, 11.13], [-0.422, 11.14], [-0.413, 11.26],
  [-0.403, 11.13], [-0.394, 11.25], [-0.385, 11.27], [-0.375, 11.14], [-0.366, 11.26], [-0.357, 11.13], [-0.348, 11.14], [-0.338, 11.27], [-0.329, 11.13], [-0.320, 11.25],
  [-0.310, 11.27], [-0.301, 11.14], [-0.292, 11.25], [-0.282, 11.13], [-0.273, 11.27], [-0.264, 11.14], [-0.254, 11.26], [-0.245, 11.13], [-0.236, 11.27], [-0.226, 11.14],
  [-0.217, 11.26], [-0.208, 11.13], [-0.198, 11.27], [-0.189, 11.14], [-0.180, 11.25], [-0.170, 11.13], [-0.161, 11.27], [-0.152, 11.14], [-0.143, 11.26], [-0.133, 11.13],
  [-0.124, 11.27], [-0.115, 11.14], [-0.105, 11.25], [-0.096, 11.13], [-0.087, 11.27], [-0.077, 11.14], [-0.068, 11.26], [-0.059, 11.13], [-0.050, 11.27], [-0.040, 11.14],
  [-0.031, 11.26], [0.022, 11.26], [0.031, 11.13], [0.040, 11.27], [0.049, 11.14], [0.058, 11.26], [0.067, 11.13], [0.076, 11.27], [0.085, 11.14], [0.094, 11.25],
  [0.103, 11.13], [0.112, 11.27], [0.121, 11.14], [0.130, 11.26], [0.139, 11.13], [0.148, 11.27], [0.157, 11.14], [0.166, 11.25], [0.175, 11.13], [0.184, 11.27],
  [0.193, 11.14], [0.201, 11.26], [0.287, 11.26], [0.296, 11.13], [0.305, 11.27], [0.314, 11.14], [0.323, 11.26], [0.332, 11.13], [0.341, 11.27], [0.350, 11.14],
  [0.359, 11.25], [0.368, 11.13], [0.377, 11.27], [0.386, 11.14], [0.395, 11.26], [0.404, 11.13], [0.413, 11.27], [0.422, 11.14], [0.431, 11.25], [0.440, 11.13],
  [0.449, 11.27], [0.458, 11.14], [0.467, 11.26], [0.476, 11.13], [0.485, 11.27],
];

const obs6 = [
  [-0.497, 10.88], [-0.488, 10.84], [-0.479, 10.91], [-0.470, 10.86], [-0.461, 10.82], [-0.452, 10.89], [-0.443, 10.93], [-0.434, 10.85], [-0.425, 10.88], [-0.416, 10.83],
  [-0.407, 10.90], [-0.398, 10.86], [-0.389, 10.92], [-0.380, 10.84], [-0.371, 10.88], [-0.362, 10.81], [-0.353, 10.87], [-0.344, 10.91], [-0.335, 10.85], [-0.326, 10.89],
  [-0.317, 10.83], [-0.308, 10.87], [-0.299, 10.92], [-0.290, 10.86], [-0.281, 10.84], [-0.272, 10.90], [-0.263, 10.88], [-0.254, 10.82], [-0.245, 10.87], [-0.236, 10.93],
  [-0.227, 10.85], [-0.218, 10.89], [-0.209, 10.83], [-0.200, 10.91], [-0.191, 10.86], [-0.182, 10.88], [-0.173, 10.82], [-0.164, 10.90], [-0.155, 10.87], [-0.146, 10.93],
  [-0.137, 10.84], [-0.128, 10.88], [-0.119, 10.86], [-0.110, 10.91], [-0.101, 10.83], [-0.092, 10.87], [-0.083, 10.89], [-0.074, 10.82], [-0.065, 10.88], [-0.056, 10.85],
  [-0.047, 10.92], [-0.038, 10.86], [-0.029, 10.84], [-0.020, 10.89], [-0.011, 10.87], [0.031, 10.86], [0.039, 10.89], [0.048, 10.83], [0.057, 10.90], [0.066, 10.87],
  [0.075, 10.84], [0.084, 10.91], [0.093, 10.86], [0.102, 10.88], [0.111, 10.82], [0.120, 10.89], [0.129, 10.93], [0.138, 10.85], [0.147, 10.88], [0.156, 10.84],
  [0.165, 10.90], [0.174, 10.87], [0.183, 10.83], [0.192, 10.89], [0.201, 10.86], [0.209, 10.88], [0.258, 10.87], [0.266, 10.84], [0.275, 10.90], [0.284, 10.86],
  [0.293, 10.92], [0.302, 10.85], [0.311, 10.88], [0.320, 10.83], [0.329, 10.89], [0.338, 10.86], [0.347, 10.91], [0.356, 10.84], [0.365, 10.88], [0.374, 10.86],
  [0.383, 10.90], [0.392, 10.82], [0.401, 10.87], [0.410, 10.89], [0.419, 10.85], [0.428, 10.92], [0.437, 10.86], [0.446, 10.88], [0.455, 10.83], [0.464, 10.90],
  [0.473, 10.87], [0.482, 10.85], [0.490, 10.89],
  [0.000, 10.90], [0.003, 10.94], [0.006, 10.98], [0.009, 11.02], [0.011, 11.06], [0.013, 11.09], [0.014, 11.11], [0.016, 11.04], [0.019, 11.00], [0.022, 10.96], [0.025, 10.92],
  [0.214, 10.91], [0.218, 10.97], [0.222, 11.04], [0.226, 11.10], [0.229, 11.15], [0.232, 11.21], [0.233, 11.25], [0.234, 11.27], [0.236, 11.18], [0.240, 11.12],
  [0.244, 11.05], [0.248, 10.99], [0.252, 10.92], [0.232, 11.32],
  [-0.224, 11.04, 0.03], [-0.196, 11.00], [-0.142, 11.00], [-0.112, 10.99], [-0.271, 10.99], [-0.492, 10.975], [-0.074, 10.76], [-0.271, 10.77],
];
const obs6b = [
  [-0.493, 10.83], [-0.484, 10.92], [-0.475, 10.80], [-0.466, 10.89], [-0.457, 10.94], [-0.448, 10.84], [-0.439, 10.81], [-0.430, 10.90], [-0.421, 10.95], [-0.412, 10.86],
  [-0.403, 10.81], [-0.394, 10.93], [-0.385, 10.88], [-0.376, 10.80], [-0.367, 10.91], [-0.358, 10.85], [-0.349, 10.95], [-0.340, 10.82], [-0.331, 10.89], [-0.322, 10.93],
  [-0.313, 10.80], [-0.304, 10.86], [-0.295, 10.95], [-0.286, 10.89], [-0.277, 10.81], [-0.268, 10.94], [-0.259, 10.85], [-0.250, 10.91], [-0.241, 10.80], [-0.232, 10.88],
  [-0.223, 10.95], [-0.214, 10.83], [-0.205, 10.89], [-0.196, 10.94], [-0.187, 10.81], [-0.178, 10.92], [-0.169, 10.86], [-0.160, 10.95], [-0.151, 10.80], [-0.142, 10.90],
  [-0.133, 10.84], [-0.124, 10.94], [-0.115, 10.81], [-0.106, 10.89], [-0.097, 10.95], [-0.088, 10.83], [-0.079, 10.92], [-0.070, 10.86], [-0.061, 10.80], [-0.052, 10.93],
  [-0.043, 10.88], [-0.034, 10.81], [-0.025, 10.94], [-0.016, 10.84], [-0.007, 10.91], [0.029, 10.82], [0.035, 10.94], [0.044, 10.80], [0.053, 10.89], [0.062, 10.95],
  [0.071, 10.83], [0.080, 10.88], [0.089, 10.80], [0.098, 10.93], [0.107, 10.86], [0.116, 10.95], [0.125, 10.81], [0.134, 10.90], [0.143, 10.84], [0.152, 10.94],
  [0.161, 10.80], [0.170, 10.91], [0.179, 10.86], [0.188, 10.95], [0.197, 10.82], [0.205, 10.92], [0.256, 10.82], [0.262, 10.93], [0.271, 10.81], [0.280, 10.89],
  [0.289, 10.95], [0.298, 10.83], [0.307, 10.91], [0.316, 10.86], [0.325, 10.80], [0.334, 10.94], [0.343, 10.85], [0.352, 10.90], [0.361, 10.81], [0.370, 10.95],
  [0.379, 10.84], [0.388, 10.89], [0.397, 10.93], [0.406, 10.80], [0.415, 10.91], [0.424, 10.86], [0.433, 10.82], [0.442, 10.94], [0.451, 10.88], [0.460, 10.81],
  [0.469, 10.93], [0.478, 10.84], [0.487, 10.92],
];
const obs6c = [
  [-0.495, 10.81], [-0.486, 10.95], [-0.477, 10.80], [-0.468, 10.96], [-0.459, 10.94], [-0.450, 10.81], [-0.441, 10.96], [-0.431, 10.80], [-0.422, 10.81], [-0.413, 10.95],
  [-0.403, 10.80], [-0.394, 10.94], [-0.385, 10.96], [-0.375, 10.81], [-0.366, 10.95], [-0.357, 10.80], [-0.348, 10.81], [-0.338, 10.96], [-0.329, 10.80], [-0.320, 10.94],
  [-0.310, 10.96], [-0.301, 10.81], [-0.292, 10.94], [-0.282, 10.80], [-0.273, 10.96], [-0.264, 10.81], [-0.254, 10.95], [-0.245, 10.80], [-0.236, 10.96], [-0.226, 10.81],
  [-0.217, 10.95], [-0.208, 10.80], [-0.198, 10.96], [-0.189, 10.81], [-0.180, 10.94], [-0.170, 10.80], [-0.161, 10.96], [-0.152, 10.81], [-0.143, 10.95], [-0.133, 10.80],
  [-0.124, 10.96], [-0.115, 10.81], [-0.105, 10.94], [-0.096, 10.80], [-0.087, 10.96], [-0.077, 10.81], [-0.068, 10.95], [-0.059, 10.80], [-0.050, 10.96], [-0.040, 10.81],
  [-0.031, 10.95], [-0.022, 10.80], [-0.013, 10.94], [0.033, 10.95], [0.042, 10.80], [0.051, 10.96], [0.060, 10.81], [0.069, 10.95], [0.078, 10.80], [0.087, 10.96],
  [0.096, 10.81], [0.105, 10.94], [0.114, 10.80], [0.123, 10.96], [0.132, 10.81], [0.141, 10.95], [0.150, 10.80], [0.159, 10.96], [0.168, 10.81], [0.177, 10.94],
  [0.186, 10.80], [0.195, 10.96], [0.203, 10.81], [0.260, 10.95], [0.269, 10.80], [0.278, 10.96], [0.287, 10.81], [0.296, 10.95], [0.305, 10.80], [0.314, 10.96],
  [0.323, 10.81], [0.332, 10.94], [0.341, 10.80], [0.350, 10.96], [0.359, 10.81], [0.368, 10.95], [0.377, 10.80], [0.386, 10.96], [0.395, 10.81], [0.404, 10.94],
  [0.413, 10.80], [0.422, 10.96], [0.431, 10.81], [0.440, 10.95], [0.449, 10.80], [0.458, 10.96], [0.467, 10.81], [0.476, 10.95], [0.485, 10.80],
];

const obs7 = [
  [-0.497, 9.26], [-0.488, 9.29], [-0.479, 9.23], [-0.470, 9.31], [-0.461, 9.25], [-0.452, 9.28], [-0.443, 9.22], [-0.434, 9.27], [-0.425, 9.30], [-0.416, 9.24],
  [-0.407, 9.29], [-0.398, 9.26], [-0.389, 9.22], [-0.380, 9.30], [-0.371, 9.25], [-0.362, 9.28], [-0.353, 9.23], [-0.344, 9.31], [-0.335, 9.26], [-0.326, 9.24],
  [-0.317, 9.29], [-0.308, 9.27], [-0.299, 9.22], [-0.290, 9.30], [-0.281, 9.25], [-0.272, 9.28], [-0.263, 9.23], [-0.254, 9.27], [-0.245, 9.31], [-0.236, 9.24],
  [-0.227, 9.26], [-0.218, 9.21], [-0.209, 9.29], [-0.200, 9.25], [-0.191, 9.28], [-0.182, 9.23], [-0.173, 9.30], [-0.164, 9.26], [-0.155, 9.24], [-0.146, 9.29],
  [-0.137, 9.22], [-0.128, 9.27], [-0.119, 9.30], [-0.110, 9.25], [-0.101, 9.28], [-0.092, 9.23], [-0.083, 9.26], [-0.074, 9.31], [-0.065, 9.24], [-0.056, 9.27],
  [-0.047, 9.22], [-0.038, 9.29], [-0.029, 9.26], [0.029, 9.25], [0.037, 9.29], [0.046, 9.23], [0.055, 9.27], [0.064, 9.30], [0.073, 9.24], [0.082, 9.28],
  [0.091, 9.22], [0.100, 9.26], [0.109, 9.31], [0.118, 9.25], [0.127, 9.28], [0.136, 9.23], [0.145, 9.27], [0.154, 9.24], [0.163, 9.30], [0.172, 9.26],
  [0.181, 9.22], [0.188, 9.28], [0.252, 9.27], [0.260, 9.23], [0.269, 9.29], [0.278, 9.25], [0.287, 9.31], [0.296, 9.24], [0.305, 9.27], [0.314, 9.22],
  [0.323, 9.28], [0.332, 9.26], [0.341, 9.30], [0.350, 9.23], [0.359, 9.27], [0.368, 9.25], [0.377, 9.29], [0.386, 9.22], [0.395, 9.26], [0.404, 9.31],
  [0.413, 9.24], [0.422, 9.28], [0.431, 9.23], [0.440, 9.27], [0.449, 9.30], [0.458, 9.25], [0.467, 9.28], [0.476, 9.22], [0.485, 9.26],
  [-0.020, 9.31], [-0.017, 9.36], [-0.014, 9.41], [-0.011, 9.46], [-0.008, 9.49], [-0.005, 9.52], [-0.002, 9.48], [0.001, 9.50], [0.004, 9.53], [0.007, 9.47],
  [0.010, 9.51], [0.013, 9.45], [0.016, 9.41], [0.019, 9.36], [0.022, 9.31],
  [0.194, 9.31], [0.197, 9.36], [0.200, 9.40], [0.204, 9.45], [0.208, 9.49], [0.211, 9.52], [0.214, 9.47], [0.217, 9.51], [0.220, 9.54], [0.223, 9.48],
  [0.226, 9.50], [0.230, 9.46], [0.234, 9.41], [0.238, 9.37], [0.242, 9.32], [0.246, 9.28],
  [-0.462, 9.377], [-0.448, 9.188], [-0.22, 9.184, 0.033], [-0.085, 9.19],
];
const obs7b = [
  [-0.493, 9.30], [-0.484, 9.22], [-0.475, 9.27], [-0.466, 9.25], [-0.457, 9.32], [-0.448, 9.24], [-0.439, 9.28], [-0.430, 9.21], [-0.421, 9.26], [-0.412, 9.31],
  [-0.403, 9.23], [-0.394, 9.29], [-0.385, 9.25], [-0.376, 9.32], [-0.367, 9.21], [-0.358, 9.27], [-0.349, 9.30], [-0.340, 9.24], [-0.331, 9.22], [-0.322, 9.28],
  [-0.313, 9.32], [-0.304, 9.25], [-0.295, 9.27], [-0.286, 9.21], [-0.277, 9.30], [-0.268, 9.23], [-0.259, 9.29], [-0.250, 9.26], [-0.241, 9.21], [-0.232, 9.31],
  [-0.223, 9.24], [-0.214, 9.28], [-0.205, 9.22], [-0.196, 9.32], [-0.187, 9.26], [-0.178, 9.24], [-0.169, 9.29], [-0.160, 9.21], [-0.151, 9.27], [-0.142, 9.31],
  [-0.133, 9.25], [-0.124, 9.22], [-0.115, 9.28], [-0.106, 9.32], [-0.097, 9.24], [-0.088, 9.27], [-0.079, 9.21], [-0.070, 9.29], [-0.061, 9.26], [-0.052, 9.31],
  [-0.043, 9.23], [-0.034, 9.28], [-0.025, 9.24], [0.027, 9.30], [0.033, 9.22], [0.042, 9.27], [0.051, 9.31], [0.060, 9.24], [0.069, 9.21], [0.078, 9.29],
  [0.087, 9.26], [0.096, 9.32], [0.105, 9.23], [0.114, 9.28], [0.123, 9.21], [0.132, 9.30], [0.141, 9.25], [0.150, 9.29], [0.159, 9.22], [0.168, 9.31],
  [0.177, 9.27], [0.185, 9.24], [0.250, 9.22], [0.256, 9.30], [0.265, 9.26], [0.274, 9.21], [0.283, 9.28], [0.292, 9.32], [0.301, 9.25], [0.310, 9.29],
  [0.319, 9.23], [0.328, 9.31], [0.337, 9.24], [0.346, 9.27], [0.355, 9.21], [0.364, 9.30], [0.373, 9.26], [0.382, 9.32], [0.391, 9.24], [0.400, 9.22],
  [0.409, 9.28], [0.418, 9.31], [0.427, 9.25], [0.436, 9.21], [0.445, 9.29], [0.454, 9.23], [0.463, 9.32], [0.472, 9.27], [0.481, 9.24], [0.489, 9.30],
];
const obs7c = [
  [-0.495, 9.21], [-0.486, 9.32], [-0.477, 9.20], [-0.468, 9.33], [-0.459, 9.31], [-0.450, 9.21], [-0.441, 9.33], [-0.431, 9.20], [-0.422, 9.22], [-0.413, 9.32],
  [-0.403, 9.20], [-0.394, 9.31], [-0.385, 9.33], [-0.375, 9.21], [-0.366, 9.32], [-0.357, 9.20], [-0.348, 9.22], [-0.338, 9.33], [-0.329, 9.20], [-0.320, 9.31],
  [-0.310, 9.33], [-0.301, 9.21], [-0.292, 9.31], [-0.282, 9.20], [-0.273, 9.33], [-0.264, 9.21], [-0.254, 9.32], [-0.245, 9.20], [-0.236, 9.33], [-0.226, 9.21],
  [-0.217, 9.32], [-0.208, 9.20], [-0.198, 9.33], [-0.189, 9.21], [-0.180, 9.31], [-0.170, 9.20], [-0.161, 9.33], [-0.152, 9.21], [-0.143, 9.32], [-0.133, 9.20],
  [-0.124, 9.33], [-0.115, 9.21], [-0.105, 9.31], [-0.096, 9.20], [-0.087, 9.33], [-0.077, 9.21], [-0.068, 9.32], [-0.059, 9.20], [-0.050, 9.33], [-0.040, 9.21],
  [-0.031, 9.32], [-0.025, 9.21], [0.028, 9.32], [0.035, 9.20], [0.044, 9.33], [0.053, 9.21], [0.062, 9.32], [0.071, 9.20], [0.080, 9.33], [0.089, 9.21],
  [0.098, 9.31], [0.107, 9.20], [0.116, 9.33], [0.125, 9.21], [0.134, 9.32], [0.143, 9.20], [0.152, 9.33], [0.161, 9.21], [0.170, 9.31], [0.179, 9.20],
  [0.187, 9.32], [0.254, 9.32], [0.263, 9.20], [0.272, 9.33], [0.281, 9.21], [0.290, 9.32], [0.299, 9.20], [0.308, 9.33], [0.317, 9.21], [0.326, 9.31],
  [0.335, 9.20], [0.344, 9.33], [0.353, 9.21], [0.362, 9.32], [0.371, 9.20], [0.380, 9.33], [0.389, 9.21], [0.398, 9.31], [0.407, 9.20], [0.416, 9.33],
  [0.425, 9.21], [0.434, 9.32], [0.443, 9.20], [0.452, 9.33], [0.461, 9.21], [0.470, 9.32], [0.479, 9.20], [0.487, 9.33],
];

const obs8 = [
  [-0.497, 10.29], [-0.488, 10.33], [-0.479, 10.26], [-0.470, 10.31], [-0.461, 10.24], [-0.452, 10.30], [-0.443, 10.34], [-0.434, 10.27], [-0.425, 10.29], [-0.416, 10.23],
  [-0.407, 10.31], [-0.398, 10.28], [-0.389, 10.33], [-0.380, 10.25], [-0.371, 10.30], [-0.362, 10.27], [-0.353, 10.32], [-0.344, 10.24], [-0.335, 10.29], [-0.326, 10.35],
  [-0.317, 10.27], [-0.308, 10.30], [-0.299, 10.25], [-0.290, 10.32], [-0.281, 10.28], [-0.272, 10.24], [-0.263, 10.31], [-0.254, 10.29], [-0.245, 10.34], [-0.236, 10.26],
  [-0.227, 10.30], [-0.218, 10.27], [-0.209, 10.32], [-0.200, 10.24], [-0.191, 10.29], [-0.182, 10.31], [-0.173, 10.26], [-0.164, 10.33], [-0.155, 10.28], [-0.146, 10.25],
  [-0.137, 10.30], [-0.128, 10.27], [-0.119, 10.32], [-0.110, 10.24], [-0.101, 10.29], [-0.092, 10.31], [-0.083, 10.26], [-0.074, 10.33], [-0.065, 10.28], [-0.056, 10.25],
  [-0.047, 10.30], [-0.038, 10.27], [-0.029, 10.32], [-0.020, 10.29], [-0.014, 10.26], [0.014, 10.30], [0.022, 10.27], [0.031, 10.32], [0.040, 10.25], [0.049, 10.29],
  [0.058, 10.31], [0.067, 10.26], [0.076, 10.33], [0.085, 10.28], [0.094, 10.25], [0.103, 10.30], [0.112, 10.27], [0.121, 10.32], [0.130, 10.24], [0.139, 10.29],
  [0.148, 10.31], [0.157, 10.26], [0.166, 10.30], [0.175, 10.28], [0.184, 10.33], [0.193, 10.25], [0.202, 10.29], [0.211, 10.27], [0.220, 10.31], [0.229, 10.26],
  [0.238, 10.30], [0.247, 10.28], [0.256, 10.32], [0.262, 10.29], [0.313, 10.28], [0.321, 10.32], [0.330, 10.25], [0.339, 10.29], [0.348, 10.31], [0.357, 10.26],
  [0.366, 10.30], [0.375, 10.33], [0.384, 10.27], [0.393, 10.29], [0.402, 10.24], [0.411, 10.31], [0.420, 10.28], [0.429, 10.33], [0.438, 10.26], [0.447, 10.30],
  [0.456, 10.27], [0.465, 10.32], [0.474, 10.29], [0.483, 10.25], [0.492, 10.30],
  [-0.010, 10.33], [-0.008, 10.40], [-0.006, 10.49], [-0.004, 10.58], [-0.003, 10.65], [-0.001, 10.72], [0.000, 10.78], [0.001, 10.80], [0.002, 10.70], [0.004, 10.61],
  [0.005, 10.54], [0.007, 10.45], [0.009, 10.37],
  [0.267, 10.32], [0.271, 10.38], [0.275, 10.44], [0.279, 10.50], [0.283, 10.55], [0.286, 10.60], [0.287, 10.63], [0.288, 10.62], [0.291, 10.56], [0.295, 10.50],
  [0.299, 10.44], [0.303, 10.38], [0.307, 10.32],
  [0.087, 10.447, 0.05], [0.09, 10.53, 0.045], [-0.155, 10.1, 0.04], [0.395, 10.41, 0.035], [0.46, 10.38], [0.028, 10.385, 0.05], [0.228, 10.38],
  [0.333, 10.13], [0.21, 10.155],
];
const obs8b = [
  [-0.493, 10.25], [-0.484, 10.31], [-0.475, 10.35], [-0.466, 10.27], [-0.457, 10.22], [-0.448, 10.32], [-0.439, 10.28], [-0.430, 10.36], [-0.421, 10.25], [-0.412, 10.30],
  [-0.403, 10.23], [-0.394, 10.34], [-0.385, 10.29], [-0.376, 10.26], [-0.367, 10.35], [-0.358, 10.22], [-0.349, 10.31], [-0.340, 10.27], [-0.331, 10.33], [-0.322, 10.24],
  [-0.313, 10.36], [-0.304, 10.28], [-0.295, 10.23], [-0.286, 10.33], [-0.277, 10.30], [-0.268, 10.25], [-0.259, 10.35], [-0.250, 10.22], [-0.241, 10.29], [-0.232, 10.33],
  [-0.223, 10.24], [-0.214, 10.36], [-0.205, 10.28], [-0.196, 10.31], [-0.187, 10.23], [-0.178, 10.34], [-0.169, 10.27], [-0.160, 10.22], [-0.151, 10.32], [-0.142, 10.36],
  [-0.133, 10.25], [-0.124, 10.29], [-0.115, 10.34], [-0.106, 10.23], [-0.097, 10.31], [-0.088, 10.27], [-0.079, 10.36], [-0.070, 10.24], [-0.061, 10.30], [-0.052, 10.33],
  [-0.043, 10.22], [-0.034, 10.28], [-0.025, 10.35], [-0.017, 10.25], [0.017, 10.34], [0.026, 10.24], [0.035, 10.29], [0.044, 10.35], [0.053, 10.22], [0.062, 10.32],
  [0.071, 10.27], [0.080, 10.24], [0.089, 10.34], [0.098, 10.30], [0.107, 10.22], [0.116, 10.35], [0.125, 10.28], [0.134, 10.33], [0.143, 10.23], [0.152, 10.29],
  [0.161, 10.36], [0.170, 10.25], [0.179, 10.31], [0.188, 10.22], [0.197, 10.34], [0.206, 10.28], [0.215, 10.35], [0.224, 10.24], [0.233, 10.32], [0.242, 10.27],
  [0.251, 10.23], [0.259, 10.34], [0.316, 10.24], [0.325, 10.35], [0.334, 10.28], [0.343, 10.22], [0.352, 10.33], [0.361, 10.29], [0.370, 10.24], [0.379, 10.36],
  [0.388, 10.31], [0.397, 10.23], [0.406, 10.34], [0.415, 10.27], [0.424, 10.22], [0.433, 10.32], [0.442, 10.35], [0.451, 10.25], [0.460, 10.30], [0.469, 10.23],
  [0.478, 10.34], [0.487, 10.28],
];
const obs8c = [
  [-0.495, 10.22], [-0.486, 10.36], [-0.477, 10.21], [-0.468, 10.37], [-0.459, 10.35], [-0.450, 10.22], [-0.441, 10.37], [-0.431, 10.21], [-0.422, 10.22], [-0.413, 10.36],
  [-0.403, 10.21], [-0.394, 10.35], [-0.385, 10.37], [-0.375, 10.22], [-0.366, 10.36], [-0.357, 10.21], [-0.348, 10.22], [-0.338, 10.37], [-0.329, 10.21], [-0.320, 10.35],
  [-0.310, 10.37], [-0.301, 10.22], [-0.292, 10.35], [-0.282, 10.21], [-0.273, 10.37], [-0.264, 10.22], [-0.254, 10.36], [-0.245, 10.21], [-0.236, 10.37], [-0.226, 10.22],
  [-0.217, 10.36], [-0.208, 10.21], [-0.198, 10.37], [-0.189, 10.22], [-0.180, 10.35], [-0.170, 10.21], [-0.161, 10.37], [-0.152, 10.22], [-0.143, 10.36], [-0.133, 10.21],
  [-0.124, 10.37], [-0.115, 10.22], [-0.105, 10.35], [-0.096, 10.21], [-0.087, 10.37], [-0.077, 10.22], [-0.068, 10.36], [-0.059, 10.21], [-0.050, 10.37], [-0.040, 10.22],
  [-0.031, 10.36], [-0.022, 10.21], [0.019, 10.36], [0.028, 10.22], [0.037, 10.37], [0.046, 10.21], [0.055, 10.36], [0.064, 10.22], [0.073, 10.35], [0.082, 10.21],
  [0.091, 10.37], [0.100, 10.22], [0.109, 10.36], [0.118, 10.21], [0.127, 10.37], [0.136, 10.22], [0.145, 10.35], [0.154, 10.21], [0.163, 10.37], [0.172, 10.22],
  [0.181, 10.36], [0.190, 10.21], [0.199, 10.37], [0.208, 10.22], [0.217, 10.35], [0.226, 10.21], [0.235, 10.37], [0.244, 10.22], [0.253, 10.36], [0.260, 10.21],
  [0.318, 10.36], [0.327, 10.21], [0.336, 10.37], [0.345, 10.22], [0.354, 10.35], [0.363, 10.21], [0.372, 10.37], [0.381, 10.22], [0.390, 10.36], [0.399, 10.21],
  [0.408, 10.37], [0.417, 10.22], [0.426, 10.35], [0.435, 10.21], [0.444, 10.37], [0.453, 10.22], [0.462, 10.36], [0.471, 10.21], [0.480, 10.37], [0.489, 10.22],
];

const models = [model1, model2, model3, model4, model5, model6, model7, model8];
const observations = [
  [...obs1, ...obs1b, ...obs1c], [...obs2, ...obs2b, ...obs2c], [...obs3, ...obs3b, ...obs3c], [...obs4, ...obs4b, ...obs4c],
  [...obs5, ...obs5b, ...obs5c], [...obs6, ...obs6b, ...obs6c], [...obs7, ...obs7b, ...obs7c], [...obs8, ...obs8b, ...obs8c],
];

// ---------------- layout ----------------
const W = 1165;
const H = 978;
const colX = [114, 685];
const rowY = [8, 240, 471.5, 703];
const panelW = 492;
const panelH = 221;
const FONT = '"DejaVu Sans", "Liberation Sans", sans-serif';
const RED = '#b40000';

const fmtPhase = (v: number) => (Math.abs(v) < 1e-9 ? '0.0' : (v < 0 ? '\u2212' : '') + Math.abs(v).toFixed(1));

function Panel({ i }: { i: number }) {
  const row = Math.floor(i / 2);
  const col = i % 2;
  const x0 = colX[col];
  const y0 = rowY[row];
  const x = d3.scaleLinear().domain(phaseDomain).range([x0, x0 + panelW]);
  const y = d3.scaleLinear().domain(magDomains[i]).range([y0, y0 + panelH]);
  const line = d3.line<number[]>().x((d) => x(d[0])).y((d) => y(d[1]));
  const clipId = `clip${i}`;
  const cap = 5;
  const mark = 3;
  const tickLen = 6;
  const bottomRow = row === 3;
  const errPath = observations[i]
    .map((p) => {
      const e = p.length > 2 ? p[2] : typicalErr[i];
      const px = x(p[0]);
      const ym = y(p[1]);
      const ya = y(p[1] - e);
      const yb = y(p[1] + e);
      return `M${px.toFixed(2)},${ya.toFixed(2)}V${yb.toFixed(2)}` +
        `M${(px - cap).toFixed(2)},${ya.toFixed(2)}h${2 * cap}` +
        `M${(px - cap).toFixed(2)},${yb.toFixed(2)}h${2 * cap}` +
        `M${(px - mark).toFixed(2)},${ym.toFixed(2)}h${2 * mark}`;
    })
    .join('');
  return (
    <g>
      <defs>
        <clipPath id={clipId}>
          <rect x={x0} y={y0} width={panelW} height={panelH} />
        </clipPath>
      </defs>
      <g clipPath={`url(#${clipId})`}>
        <path d={errPath} stroke="#000" strokeWidth={1.8} fill="none" />
        <path d={line(models[i]) || ''} fill="none" stroke={RED} strokeWidth={5} strokeLinejoin="round" />
      </g>
      <rect x={x0} y={y0} width={panelW} height={panelH} fill="none" stroke="#222" strokeWidth={1.5} />
      <g stroke="#222" strokeWidth={1.2}>
        {magTicks[i].map((t) => (
          <g key={t}>
            <line x1={x0} x2={x0 + tickLen} y1={y(t)} y2={y(t)} />
            <line x1={x0 + panelW} x2={x0 + panelW - tickLen} y1={y(t)} y2={y(t)} />
          </g>
        ))}
        {phaseTicks.map((t) => (
          <g key={t}>
            <line x1={x(t)} x2={x(t)} y1={y0} y2={y0 + tickLen} />
            <line x1={x(t)} x2={x(t)} y1={y0 + panelH} y2={y0 + panelH - tickLen} />
          </g>
        ))}
      </g>
      {magTicks[i].map((t) => (
        <text key={t} x={x0 - 4} y={y(t)} dy="0.36em" textAnchor="end" fontFamily={FONT} fontWeight="bold" fontSize={21.5} fill="#000">
          {t.toFixed(tickDecimals[i])}
        </text>
      ))}
      {bottomRow &&
        phaseTicks.map((t) => (
          <text key={t} x={x(t)} y={945.5} textAnchor="middle" fontFamily={FONT} fontWeight="bold" fontSize={21.5} fill="#000">
            {fmtPhase(t)}
          </text>
        ))}
      {bottomRow && (
        <text x={x0 + 246} y={972} textAnchor="middle" fontFamily={FONT} fontSize={22.5} fill="#000">
          Phase
        </text>
      )}
      {col === 0 && (
        <text transform={`translate(28,${y0 + panelH / 2}) rotate(-90)`} textAnchor="middle" dy="0.36em" fontFamily={FONT} fontSize={25} fill="#000">
          V Mag
        </text>
      )}
      <text fontFamily={FONT} fontSize={22.3} fill="#111">
        <tspan x={x0 + 15} y={y0 + panelH - 55}>{starIds[i]}</tspan>
        <tspan x={x0 + 15} y={y0 + panelH - 33}>{`P: ${periods[i]} d`}</tspan>
        <tspan x={x0 + 15} y={y0 + panelH - 11}>{`e: ${eccs[i]}`}</tspan>
      </text>
    </g>
  );
}

export default function App() {
  return (
    <svg width={W} height={H} style={{ position: 'absolute', left: 0, top: 0, background: '#fff' }}>
      <rect width={W} height={H} fill="#fff" />
      {starIds.map((_, i) => (
        <Panel key={i} i={i} />
      ))}
    </svg>
  );
}
